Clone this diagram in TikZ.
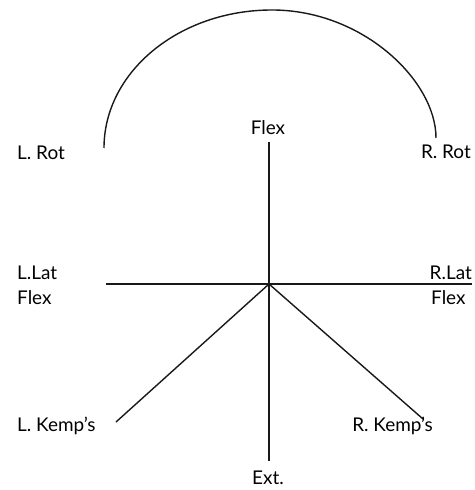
\documentclass[tikz,border=0pt]{standalone}
\usepackage{fontspec}
\setmainfont{Lato}
\begin{document}
\begin{tikzpicture}[x=1bp,y=-1bp,
  lbl/.style={inner sep=0pt,font=\fontsize{19}{22}\selectfont,text=black},
  ln/.style={line width=1.4bp,draw=black!90}]
\useasboundingbox (0,0) rectangle (475,490);
\coordinate (O) at (269,284);
\coordinate (top) at (269,142);
\coordinate (bot) at (269,461);
\coordinate (lft) at (106,284);
\coordinate (rgt) at (472,284);
\coordinate (lk) at (116,422);
\coordinate (rk) at (423,419);
\coordinate (a1) at (104,148);
\coordinate (a2) at (272,10);
\coordinate (a3) at (436,138);
\draw[ln] (top) -- (bot);
\draw[ln] (lft) -- (rgt);
\draw[ln] (O) -- (lk);
\draw[ln] (O) -- (rk);
\draw[ln] (a1) .. controls (104,72) and (179,10) .. (a2)
               .. controls (363,10) and (436,81) .. (a3);
\node[lbl,anchor=west] (lrot) at (17,153) {L. Rot};
\node[lbl,anchor=east] (rrot) at (471,152) {R. Rot};
\node[lbl] (flex) at (268,128) {Flex};
\node[lbl,anchor=west] (llat) at (17,273) {L.Lat};
\node[lbl,anchor=west] (llatf) at (17,298) {Flex};
\node[lbl,anchor=east] (rlat) at (472,273) {R.Lat};
\node[lbl,anchor=west] (rlatf) at (431,298) {Flex};
\node[lbl,anchor=west] (lkemp) at (17,426) {L. Kemp's};
\node[lbl,anchor=east] (rkemp) at (433,426) {R. Kemp's};
\node[lbl] (ext) at (268,478) {Ext.};
\end{tikzpicture}
\end{document}
